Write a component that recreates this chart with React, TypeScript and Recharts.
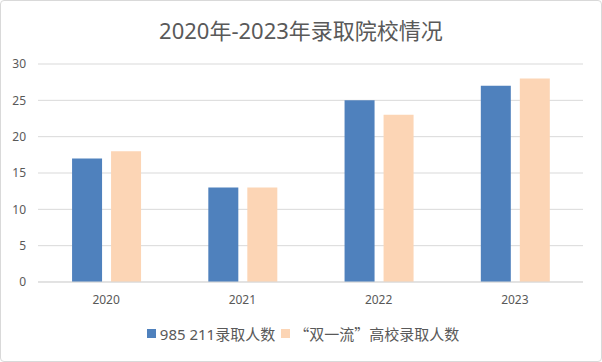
import { Bar, BarChart, CartesianGrid, Legend, XAxis, YAxis } from 'recharts';

const years = ['2020', '2021', '2022', '2023'];
const series985 = [17, 13, 25, 27];
const seriesDouble = [18, 13, 23, 28];
const yTicks = [0, 5, 10, 15, 20, 25, 30];

const NAME_985 = '985 211录取人数';
const NAME_DOUBLE = '“双一流”高校录取人数';

const COLORS = ['#4F81BD', '#FCD5B5'];
const FONT = "'Noto Sans', 'Noto Sans CJK SC', sans-serif";
const CJK_FONT = "'Noto Sans CJK SC', sans-serif";

const data = years.map((year, i) => ({
  year,
  a: series985[i],
  b: seriesDouble[i],
}));

const renderLegend = () => (
  <div
    style={{
      display: 'flex',
      justifyContent: 'center',
      alignItems: 'center',
      fontFamily: FONT,
      fontSize: 15,
      color: '#595959',
      marginLeft: 28,
    }}
  >
    {[NAME_985, NAME_DOUBLE].map((name, i) => (
      <span key={name} style={{ display: 'flex', alignItems: 'center', marginRight: 6 }}>
        <span
          style={{
            display: 'inline-block',
            width: 9,
            height: 9,
            background: COLORS[i],
            marginRight: 4,
          }}
        />
        <span style={{ fontFamily: i === 1 ? CJK_FONT : FONT }}>{name}</span>
      </span>
    ))}
  </div>
);

export default function App() {
  return (
    <div
      style={{
        position: 'absolute',
        left: 0,
        top: 0,
        width: 602,
        height: 362,
        boxSizing: 'border-box',
        border: '1px solid #D9D9D9',
        borderRadius: 4,
        background: '#fff',
      }}
    >
      <div
        style={{
          position: 'absolute',
          top: 12,
          left: 0,
          width: 600,
          textAlign: 'center',
          fontFamily: FONT,
          fontSize: 22,
          color: '#595959',
        }}
      >
        2020年-2023年录取院校情况
      </div>
      <BarChart
        width={600}
        height={360}
        data={data}
        margin={{ top: 63, right: 18, bottom: 18, left: 0 }}
        barGap={9}
        barCategoryGap="25%"
        style={{ position: 'absolute', left: 0, top: 0 }}
      >
        <CartesianGrid vertical={false} stroke="#D9D9D9" />
        <XAxis
          dataKey="year"
          axisLine={{ stroke: '#D9D9D9' }}
          tickLine={false}
          tickSize={0}
          tickMargin={13}
          height={40}
          tick={{ fill: '#595959', fontSize: 12, fontFamily: FONT }}
        />
        <YAxis
          domain={[0, 30]}
          ticks={yTicks}
          axisLine={false}
          tickLine={false}
          tickSize={0}
          tickMargin={12}
          width={37}
          tick={{ fill: '#595959', fontSize: 12, fontFamily: FONT }}
        />
        <Legend verticalAlign="bottom" content={renderLegend} wrapperStyle={{ bottom: 17 }} />
        <Bar dataKey="a" name={NAME_985} fill={COLORS[0]} isAnimationActive={false} />
        <Bar dataKey="b" name={NAME_DOUBLE} fill={COLORS[1]} isAnimationActive={false} />
      </BarChart>
    </div>
  );
}
